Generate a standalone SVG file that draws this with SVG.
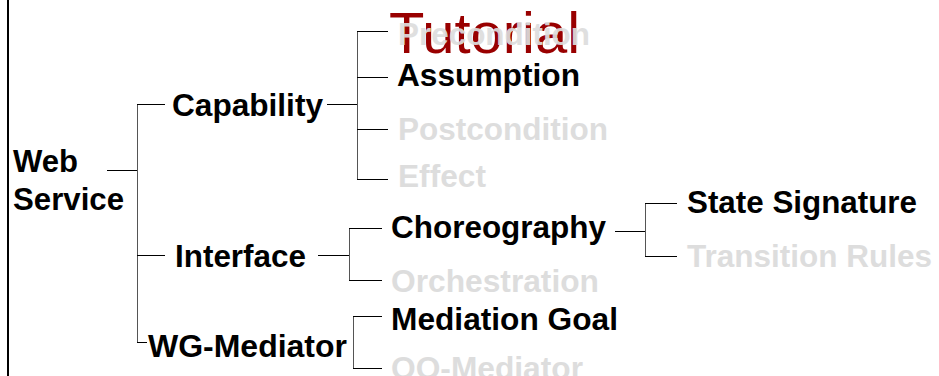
<svg xmlns="http://www.w3.org/2000/svg" width="939" height="376" viewBox="0 0 939 376">
<style>
text{font-family:"Liberation Sans",Arial,sans-serif;font-weight:bold;font-size:31px}
.on{fill:#000}
.off{fill:#dddddd}
.title{font-weight:normal;font-size:57px;fill:#990000}
.c line{stroke:#000;stroke-width:1}
.c line.v{stroke:#555}
</style>
<rect x="0" y="0" width="939" height="376" fill="#fff"/>
<rect x="7" y="0" width="2" height="376" fill="#000"/>
<g id="title"><text class="title" x="389" y="53" textLength="191" lengthAdjust="spacingAndGlyphs">Tutorial</text></g>
<g class="c" id="connectors">
<line x1="107" y1="170.5" x2="137" y2="170.5"/>
<line class="v" x1="137.5" y1="104" x2="137.5" y2="342"/>
<line x1="137" y1="104.5" x2="165" y2="104.5"/>
<line x1="137" y1="255.5" x2="165" y2="255.5"/>
<line x1="137" y1="342.5" x2="147" y2="342.5"/>
<line x1="327" y1="104.5" x2="357" y2="104.5"/>
<line class="v" x1="357.5" y1="31" x2="357.5" y2="179"/>
<line x1="357" y1="31.5" x2="388" y2="31.5"/>
<line x1="357" y1="77.5" x2="388" y2="77.5"/>
<line x1="357" y1="129.5" x2="388" y2="129.5"/>
<line x1="357" y1="179.5" x2="388" y2="179.5"/>
<line x1="318" y1="255.5" x2="349" y2="255.5"/>
<line class="v" x1="349.5" y1="228" x2="349.5" y2="280"/>
<line x1="349" y1="228.5" x2="382" y2="228.5"/>
<line x1="349" y1="280.5" x2="382" y2="280.5"/>
<line class="v" x1="353.5" y1="316" x2="353.5" y2="368"/>
<line x1="353" y1="316.5" x2="382" y2="316.5"/>
<line x1="353" y1="368.5" x2="382" y2="368.5"/>
<line x1="615" y1="231.5" x2="645" y2="231.5"/>
<line class="v" x1="645.5" y1="203" x2="645.5" y2="256"/>
<line x1="645" y1="203.5" x2="677" y2="203.5"/>
<line x1="645" y1="256.5" x2="677" y2="256.5"/>
</g>
<g id="web-service"><text class="on" x="13" y="172" textLength="65" lengthAdjust="spacingAndGlyphs">Web</text><text class="on" x="13" y="210" textLength="111" lengthAdjust="spacingAndGlyphs">Service</text></g>
<g id="capability"><text class="on" x="172" y="116" textLength="151" lengthAdjust="spacingAndGlyphs">Capability</text></g>
<g id="precondition"><text class="off" x="398" y="45" opacity="0.92" textLength="192" lengthAdjust="spacingAndGlyphs">Precondition</text></g>
<g id="assumption"><text class="on" x="397" y="86" textLength="183" lengthAdjust="spacingAndGlyphs">Assumption</text></g>
<g id="postcondition"><text class="off" x="398" y="140" textLength="210" lengthAdjust="spacingAndGlyphs">Postcondition</text></g>
<g id="effect"><text class="off" x="398" y="187" textLength="88" lengthAdjust="spacingAndGlyphs">Effect</text></g>
<g id="interface"><text class="on" x="175" y="267" textLength="131" lengthAdjust="spacingAndGlyphs">Interface</text></g>
<g id="wg-mediator"><text class="on" x="148" y="357" textLength="199" lengthAdjust="spacingAndGlyphs">WG-Mediator</text></g>
<g id="choreography"><text class="on" x="391" y="238" textLength="215" lengthAdjust="spacingAndGlyphs">Choreography</text></g>
<g id="orchestration"><text class="off" x="391" y="292" textLength="208" lengthAdjust="spacingAndGlyphs">Orchestration</text></g>
<g id="mediation-goal"><text class="on" x="391" y="330" textLength="227" lengthAdjust="spacingAndGlyphs">Mediation Goal</text></g>
<g id="oo-mediator"><text class="off" x="391" y="379" textLength="192" lengthAdjust="spacingAndGlyphs">OO-Mediator</text></g>
<g id="state-signature"><text class="on" x="687" y="213" textLength="230" lengthAdjust="spacingAndGlyphs">State Signature</text></g>
<g id="transition-rules"><text class="off" x="687" y="267" textLength="245" lengthAdjust="spacingAndGlyphs">Transition Rules</text></g>
</svg>
